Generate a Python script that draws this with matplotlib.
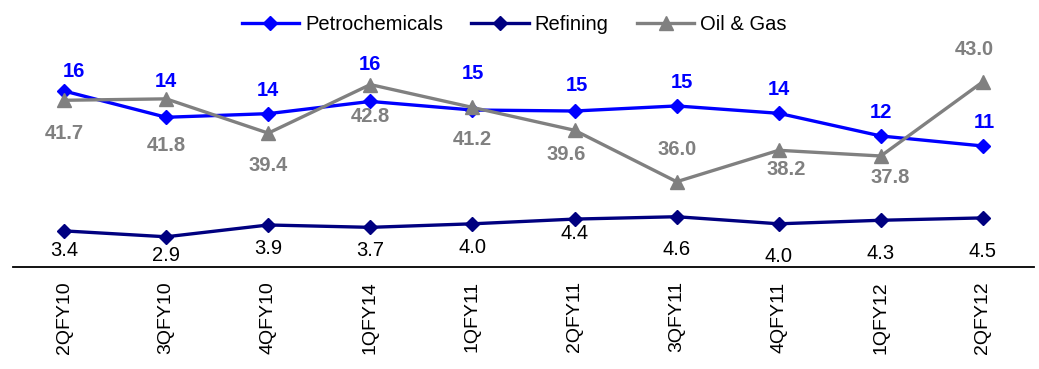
import matplotlib
matplotlib.use("Agg")
import matplotlib.pyplot as plt
from matplotlib.lines import Line2D

plt.rcParams['font.family'] = ['Liberation Sans', 'DejaVu Sans']

quarters = ["2QFY10", "3QFY10", "4QFY10", "1QFY14", "1QFY11",
            "2QFY11", "3QFY11", "4QFY11", "1QFY12", "2QFY12"]
petrochemicals = [16.45, 14.06, 14.39, 15.50, 14.72, 14.63, 15.09, 14.42, 12.36, 11.45]
refining = [3.4, 2.9, 3.9, 3.7, 4.0, 4.4, 4.6, 4.0, 4.3, 4.5]
oil_gas = [41.7, 41.8, 39.4, 42.8, 41.2, 39.6, 36.0, 38.2, 37.8, 43.0]

# label offsets in pixels (dx, dy) relative to each point
petro_off = [(10, 19), (0, 36), (0, 23), (0, 37), (0, 37), (2, 26), (5, 23), (0, 24), (0, 23), (1, 23)]
ref_off = [(0, -20), (0, -19), (0, -24), (0, -23), (0, -24), (0, -14), (0, -33), (0, -33), (0, -33), (0, -34)]
og_off = [(0, -33), (0, -47), (0, -32), (0, -32), (0, -32), (-8, -24), (0, 32), (7, -19), (9, -22), (-9, 32)]

C_PETRO = "#0000FF"
C_REF = "#000080"
C_OG = "#808080"
LABEL_SIZE = 14.5

fig = plt.figure(figsize=(10.39, 3.69), dpi=100)
ax = fig.add_axes([0.0125, 0.2772, 0.9827, 0.6686])
ax_og = ax.twinx()
ax_ref = ax.twinx()
# draw order: petrochemicals, refining, oil & gas on top
ax_ref.set_zorder(1)
ax_og.set_zorder(2)
for a in (ax_ref, ax_og):
    a.patch.set_visible(False)

x = list(range(len(quarters)))

ax.plot(x, petrochemicals, color=C_PETRO, lw=2.4, marker="D", ms=7.5, mec=C_PETRO, mfc=C_PETRO)
ax_ref.plot(x, refining, color=C_REF, lw=2.4, marker="D", ms=7.5, mec=C_REF, mfc=C_REF)
ax_og.plot(x, oil_gas, color=C_OG, lw=2.4, marker="^", ms=10, mec=C_OG, mfc=C_OG)

ax.set_ylim(0.48, 22.9)
ax_ref.set_ylim(0.364, 21.27)
ax_og.set_ylim(30.05, 47.32)
for a in (ax, ax_ref, ax_og):
    a.set_xlim(-0.5, len(quarters) - 0.5)
    for s in ("top", "left", "right"):
        a.spines[s].set_visible(False)
    a.set_yticks([])
for a in (ax_ref, ax_og):
    a.spines["bottom"].set_visible(False)
ax.spines["bottom"].set_color("black")
ax.spines["bottom"].set_linewidth(1.3)

ax.set_xticks(x)
ax.set_xticklabels(quarters, rotation=90, fontsize=14)
ax.tick_params(axis="x", length=0, pad=10.5)

for xi, v, (dx, dy) in zip(x, petrochemicals, petro_off):
    ax.annotate(f"{v:.0f}", (xi, v), xytext=(dx, dy), textcoords="offset pixels",
                ha="center", va="center", fontsize=LABEL_SIZE, fontweight="bold", color=C_PETRO)
for xi, v, (dx, dy) in zip(x, refining, ref_off):
    ax_ref.annotate(f"{v:.1f}", (xi, v), xytext=(dx, dy), textcoords="offset pixels",
                    ha="center", va="center", fontsize=LABEL_SIZE, color="black")
for xi, v, (dx, dy) in zip(x, oil_gas, og_off):
    ax_og.annotate(f"{v:.1f}", (xi, v), xytext=(dx, dy), textcoords="offset pixels",
                   ha="center", va="center", fontsize=LABEL_SIZE, fontweight="bold", color=C_OG)

handles = [
    Line2D([], [], color=C_PETRO, lw=2.4, marker="D", ms=7.5),
    Line2D([], [], color=C_REF, lw=2.4, marker="D", ms=7.5),
    Line2D([], [], color=C_OG, lw=2.4, marker="^", ms=10),
]
fig.legend(handles, ["Petrochemicals", "Refining", "Oil & Gas"], loc="center",
           bbox_to_anchor=(0.495, 0.934), ncol=3, frameon=False, fontsize=14.5,
           handlelength=2.85, columnspacing=1.4, handletextpad=0.3)

fig.savefig("out.png", dpi=100)
